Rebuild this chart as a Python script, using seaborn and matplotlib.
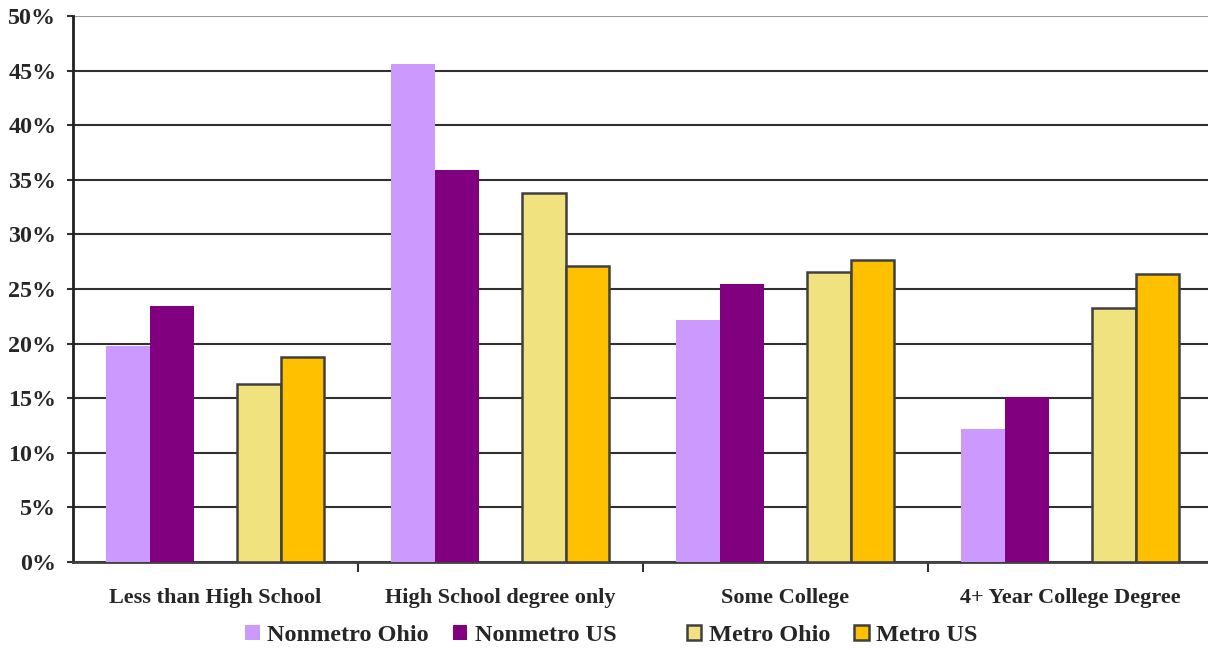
import numpy as np
import pandas as pd
import seaborn as sns
import matplotlib.pyplot as plt
from matplotlib.patches import Patch
from matplotlib.colors import to_hex

categories = ["Less than High School", "High School degree only",
              "Some College", "4+ Year College Degree"]
series = ["Nonmetro Ohio", "Nonmetro US", "Metro Ohio", "Metro US"]
nonmetro_ohio = [19.8, 45.6, 22.2, 12.2]
nonmetro_us = [23.4, 35.9, 25.5, 15.1]
metro_ohio = [16.3, 33.8, 26.6, 23.3]
metro_us = [18.8, 27.1, 27.7, 26.4]
y_ticks = [0, 5, 10, 15, 20, 25, 30, 35, 40, 45, 50]
y_tick_labels = [f"{v}%" for v in y_ticks]

colors = {"Nonmetro Ohio": "#CC99FF", "Nonmetro US": "#800080",
          " ": "#FFFFFF", "Metro Ohio": "#F0E27E", "Metro US": "#FFC000"}
outlined = {"Metro Ohio", "Metro US"}

# Long-form table; a blank series keeps an empty slot between nonmetro and metro bars
values = {"Nonmetro Ohio": nonmetro_ohio, "Nonmetro US": nonmetro_us,
          " ": [np.nan] * len(categories),
          "Metro Ohio": metro_ohio, "Metro US": metro_us}
hue_order = ["Nonmetro Ohio", "Nonmetro US", " ", "Metro Ohio", "Metro US"]
rows = []
for name in hue_order:
    for cat, v in zip(categories, values[name]):
        rows.append({"Education": cat, "Series": name, "Share": v})
df = pd.DataFrame(rows)

sns.set_theme(style="white")
plt.rcParams["font.family"] = ["Liberation Serif", "DejaVu Serif"]
plt.rcParams["font.weight"] = "bold"

fig = plt.figure(figsize=(12.08, 6.5), dpi=100)
# axes run slightly past the right edge, so gridlines reach the border
ax = fig.add_axes([0.0604, 0.1354, 0.9437, 0.84])

sns.barplot(data=df, x="Education", y="Share", hue="Series",
            hue_order=hue_order, order=categories, palette=colors,
            width=0.765, errorbar=None, saturation=1, legend=False,
            ax=ax, zorder=3)

outline_colors = {to_hex(colors[n]) for n in outlined}
for p in ax.patches:
    fc = to_hex(p.get_facecolor())
    if fc in outline_colors:
        p.set_edgecolor("#404040")
        p.set_linewidth(1.8)
    else:
        p.set_edgecolor(fc)
        p.set_linewidth(0)

ax.set_xlim(-0.5, 3.5)
ax.set_ylim(0, 50)
ax.set_yticks(y_ticks)
ax.set_yticklabels(y_tick_labels, fontsize=17.3, fontweight="bold")
ax.yaxis.grid(True, color="#303030", linewidth=1.5, zorder=0)
ax.set_axisbelow(True)
gl = ax.get_ygridlines()
gl[-1].set_color("#9a9a9a")
ax.tick_params(axis="y", which="major", length=4.5, width=1.5, color="#303030",
               pad=7.5, left=True)

ax.set_xticks(range(len(categories)))
ax.set_xticklabels(categories, fontsize=16, fontweight="bold")
ax.set_xticks([0.5, 1.5, 2.5], minor=True)
ax.tick_params(axis="x", which="major", length=0, pad=19)
ax.tick_params(axis="x", which="minor", length=7, width=1.5, color="#303030",
               bottom=True)
ax.set_xlabel("")
ax.set_ylabel("")

for side in ["top", "right"]:
    ax.spines[side].set_visible(False)
ax.spines["left"].set_color("#202020")
ax.spines["left"].set_linewidth(2)
ax.spines["bottom"].set_color("#404040")
ax.spines["bottom"].set_linewidth(2)

handles = []
labels = []
for name in hue_order:
    if name == " ":
        handles.append(Patch(facecolor="none", edgecolor="none"))
        labels.append("")
    elif name in outlined:
        handles.append(Patch(facecolor=colors[name], edgecolor="#404040", linewidth=1.8))
        labels.append(name)
    else:
        handles.append(Patch(facecolor=colors[name], edgecolor="none"))
        labels.append(name)

fig.legend(handles, labels, loc="center", bbox_to_anchor=(0.506, 0.022),
           ncol=5, frameon=False, handlelength=0.6, handleheight=0.6,
           handletextpad=0.3, columnspacing=1.0,
           prop={"family": "Liberation Serif", "weight": "bold", "size": 17.5})

fig.savefig("out.png", dpi=100)
